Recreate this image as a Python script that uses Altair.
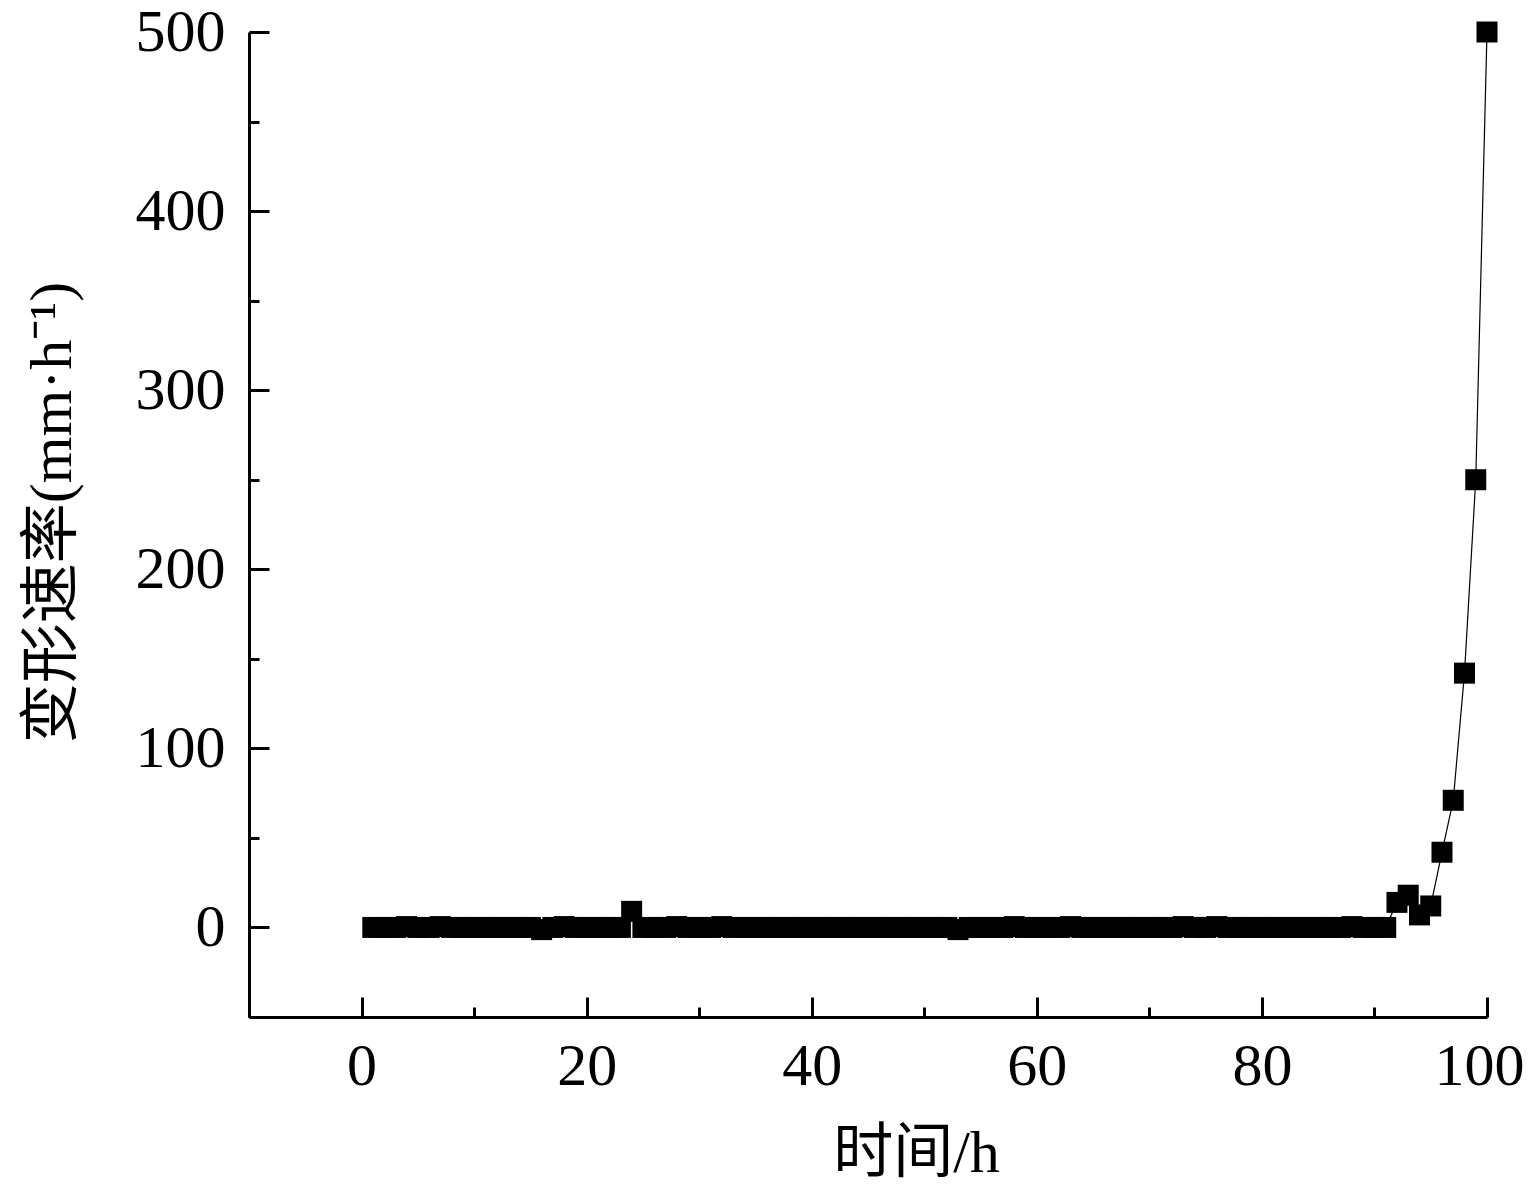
import altair as alt
import pandas as pd

# ---- data ----
hours = list(range(1, 101))
rate = [
    0, 0, 0, 0.5, 0, 0, 0.5, 0, 0, 0,          # 1-10
    0, 0, 0, 0, 0, -1.2, 0, 0.5, 0, 0,          # 11-20
    0, 0, 0, 9, 0, 0, 0, 0.5, 0, 0,             # 21-30
    0, 0.5, 0, 0, 0, 0, 0, 0, 0, 0,             # 31-40
    0, 0, 0, 0, 0, 0, 0, 0, 0, 0,               # 41-50
    0, 0, -1.2, 0, 0, 0, 0, 0.5, 0, 0,          # 51-60
    0, 0, 0.5, 0, 0, 0, 0, 0, 0, 0,             # 61-70
    0, 0, 0.5, 0, 0, 0.5, 0, 0, 0, 0,           # 71-80
    0, 0, 0, 0, 0, 0, 0, 0.5, 0, 0,             # 81-90
    0, 14, 18, 7, 12, 42, 71, 142, 250, 500,    # 91-100
]

x_major = [0, 20, 40, 60, 80, 100]
x_minor = [-10, 10, 30, 50, 70, 90]
y_major = [0, 100, 200, 300, 400, 500]
y_minor = [-50, 50, 150, 250, 350, 450]

x_title = "时间/h"
y_title = "变形速率(mm·h⁻¹)"

df = pd.DataFrame({"t": hours, "v": rate})

FONT = "Liberation Serif, Noto Sans CJK SC, serif"
FS = 60
W, H = 1238, 985

xs = alt.Scale(domain=[-10, 100], nice=False, zero=False)
ys = alt.Scale(domain=[-50, 500], nice=False, zero=False)

base = alt.Chart(df)

common = dict(labelFont=FONT, labelFontSize=FS, labelColor="black",
              tickColor="black", tickWidth=3, grid=False)

line = base.mark_line(color="black", strokeWidth=1.2).encode(
    x=alt.X("t:Q", scale=xs, axis=alt.Axis(
        orient="bottom", values=x_major, tickSize=20, offset=-20, domain=False,
        labelPadding=20, labelFlush=False, labelOverlap=False, format="d",
        labelOffset={"condition": {"test": "datum.value == 100", "value": -8}, "value": 0},
        title=x_title, titleFont=FONT, titleFontSize=FS, titleFontWeight="normal",
        titleColor="black", titleBaseline="middle", titleX=667, titleY=156,
        **common)),
    y=alt.Y("v:Q", scale=ys, axis=alt.Axis(
        orient="left", values=y_major, tickSize=20, offset=-20, domain=False,
        labelPadding=24, labelFlush=False, labelOverlap=False, format="d",
        title=y_title, titleFont=FONT, titleFontSize=FS, titleFontWeight="normal",
        titleColor="black", titleBaseline="middle", titleX=-217, titleY=480,
        **common)),
)

points = base.mark_square(size=441, color="black", opacity=1).encode(
    x=alt.X("t:Q", scale=xs, axis=alt.Axis(
        orient="bottom", values=x_minor, tickSize=10, offset=-10, domain=False,
        labels=False, title=None, tickColor="black", tickWidth=3, grid=False)),
    y=alt.Y("v:Q", scale=ys, axis=alt.Axis(
        orient="left", values=y_minor, tickSize=10, offset=-10, domain=False,
        labels=False, title=None, tickColor="black", tickWidth=3, grid=False)),
)

frame = base.mark_point(opacity=0).encode(
    x=alt.X("t:Q", scale=xs, axis=alt.Axis(
        orient="bottom", domain=True, domainColor="black", domainWidth=3,
        ticks=False, labels=False, title=None, grid=False)),
    y=alt.Y("v:Q", scale=ys, axis=alt.Axis(
        orient="left", domain=True, domainColor="black", domainWidth=3,
        ticks=False, labels=False, title=None, grid=False)),
)

chart = (
    alt.layer(frame, line, points)
    .resolve_axis(x="independent", y="independent")
    .properties(width=W, height=H, autosize="none",
                padding={"left": 241, "top": 24, "right": 36, "bottom": 166},
                background="white")
    .configure_view(stroke=None)
)

chart.save("out.html", embed_options={"renderer": "svg", "actions": False})
